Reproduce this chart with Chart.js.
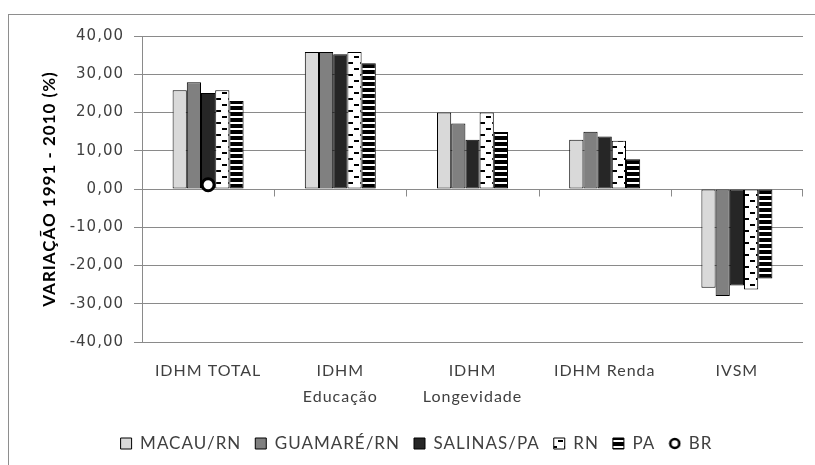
<!DOCTYPE html>
<html>
<head>
<meta charset="utf-8">
<script src="https://cdn.jsdelivr.net/npm/chart.js@4"></script>
<style>
  html, body { margin: 0; padding: 0; background: #fff; overflow: hidden; }
  #frame { position: absolute; left: 8px; top: 14px; width: 900px; height: 600px; border: 1px solid #8e8e8e; }
  #chart { position: absolute; left: 0; top: 0; }
</style>
</head>
<body>
<div id="frame"></div>
<canvas id="chart" width="815" height="465"></canvas>
<script>
const categories = ["IDHM TOTAL", ["IDHM", "Educação"], ["IDHM", "Longevidade"], "IDHM Renda", "IVSM"];
const macau = [25.8, 35.8, 20.0, 12.9, -25.8];
const guamare = [27.9, 35.8, 17.1, 15.0, -28.0];
const salinas = [25.1, 35.2, 12.9, 13.7, -25.2];
const rn = [25.8, 35.8, 20.0, 12.6, -26.3];
const pa = [23.0, 32.9, 14.9, 7.8, -23.4];
const br = [1.1, null, null, null, null];
const yTicks = [-40, -30, -20, -10, 0, 10, 20, 30, 40];

const GRID = "#8a8a8a";
const TEXT = "#404040";
const LABEL_FONT = "Lato, 'Open Sans', sans-serif";

function makePattern(w, h, draw) {
  const c = document.createElement("canvas");
  c.width = w;
  c.height = h;
  draw(c.getContext("2d"));
  return c.getContext("2d").createPattern(c, "repeat");
}

// white with short black dashes, staggered
const rnPattern = makePattern(12, 12, (g) => {
  g.fillStyle = "#fff";
  g.fillRect(0, 0, 12, 12);
  g.fillStyle = "#000";
  g.fillRect(0, 2, 5, 2);
  g.fillRect(6, 8, 5, 2);
});

// black with white horizontal lines
const paPattern = makePattern(6, 6, (g) => {
  g.fillStyle = "#000";
  g.fillRect(0, 0, 6, 6);
  g.fillStyle = "#fff";
  g.fillRect(0, 2, 6, 2);
});

// small ring for the legend entry of BR
const brIcon = document.createElement("canvas");
brIcon.width = 13;
brIcon.height = 13;
(() => {
  const g = brIcon.getContext("2d");
  g.beginPath();
  g.arc(6.5, 6.5, 4.5, 0, Math.PI * 2);
  g.fillStyle = "#fff";
  g.fill();
  g.lineWidth = 2.6;
  g.strokeStyle = "#000";
  g.stroke();
})();

function barSet(label, data, fill) {
  return {
    label,
    data,
    backgroundColor: fill,
    borderColor: "#000",
    borderWidth: 1,
    borderSkipped: false,
    pointStyle: "rect",
    categoryPercentage: 0.537,
    barPercentage: 1,
    order: 1,
  };
}

// the original text is set a little loose
const spacing = {
  id: "spacing",
  beforeUpdate(chart) { chart.ctx.letterSpacing = "1px"; },
  beforeDraw(chart) { chart.ctx.letterSpacing = "1px"; },
};

// little tick marks on the zero line between categories
const zeroTicks = {
  id: "zeroTicks",
  afterDraw(chart) {
    const x = chart.scales.x;
    const y0 = Math.round(chart.scales.y.getPixelForValue(0)) + 0.5;
    const ctx = chart.ctx;
    ctx.save();
    ctx.strokeStyle = GRID;
    ctx.lineWidth = 1;
    for (let i = 1; i <= categories.length; i++) {
      const px = Math.round((x.getPixelForValue(i - 1) + x.getPixelForValue(i)) / 2) + 0.5;
      const xx = i === categories.length ? Math.round(x.right) - 0.5 : px;
      ctx.beginPath();
      ctx.moveTo(xx, y0);
      ctx.lineTo(xx, y0 + 7);
      ctx.stroke();
    }
    ctx.restore();
  },
};

new Chart(document.getElementById("chart"), {
  type: "bar",
  data: {
    labels: categories,
    datasets: [
      barSet("MACAU/RN", macau, "#d9d9d9"),
      barSet("GUAMARÉ/RN", guamare, "#808080"),
      barSet("SALINAS/PA", salinas, "#262626"),
      barSet("RN", rn, rnPattern),
      barSet("PA", pa, paPattern),
      {
        type: "line",
        label: "BR",
        data: br,
        showLine: false,
        pointStyle: "circle",
        pointRadius: 6,
        pointBorderWidth: 3,
        pointBackgroundColor: "#fff",
        pointBorderColor: "#000",
        backgroundColor: "#fff",
        borderColor: "#000",
        borderWidth: 3,
        order: 0,
      },
    ],
  },
  options: {
    responsive: false,
    animation: false,
    layout: { padding: { left: 30, right: 12, top: 36, bottom: 3 } },
    scales: {
      x: {
        grid: { display: false, drawTicks: false },
        border: { display: false },
        ticks: {
          color: TEXT,
          padding: 16,
          maxRotation: 0,
          autoSkip: false,
          font: { family: LABEL_FONT, size: 16, lineHeight: 1.6 },
        },
        afterFit: (s) => { s.height = 79; },
      },
      y: {
        min: -40,
        max: 40,
        afterBuildTicks: (s) => { s.ticks = yTicks.map((v) => ({ value: v })); },
        grid: { color: GRID, lineWidth: 1, tickLength: 8, drawTicks: true },
        border: { display: true, color: GRID, width: 1 },
        ticks: {
          color: TEXT,
          padding: 10,
          font: { family: "'DejaVu Sans', sans-serif", size: 15 },
          callback: (v) => v.toFixed(2).replace(".", ","),
        },
        title: {
          display: true,
          text: "VARIAÇÃO 1991 - 2010 (%)",
          color: "#000",
          padding: { top: 9, bottom: 0 },
          font: { family: LABEL_FONT, size: 17, weight: "bold" },
        },
        afterFit: (s) => { s.width = 112; },
      },
    },
    plugins: {
      tooltip: { enabled: false },
      legend: {
        position: "bottom",
        labels: {
          color: TEXT,
          usePointStyle: true,
          boxWidth: 11,
          boxHeight: 11,
          padding: 14,
          font: { family: LABEL_FONT, size: 17 },
          sort: (a, b) => a.datasetIndex - b.datasetIndex,
          generateLabels: (chart) => {
            const items = Chart.defaults.plugins.legend.labels.generateLabels(chart);
            items.forEach((it) => {
              if (it.text === "BR") it.pointStyle = brIcon;
            });
            return items;
          },
        },
      },
    },
  },
  plugins: [spacing, zeroTicks],
});
</script>
</body>
</html>
